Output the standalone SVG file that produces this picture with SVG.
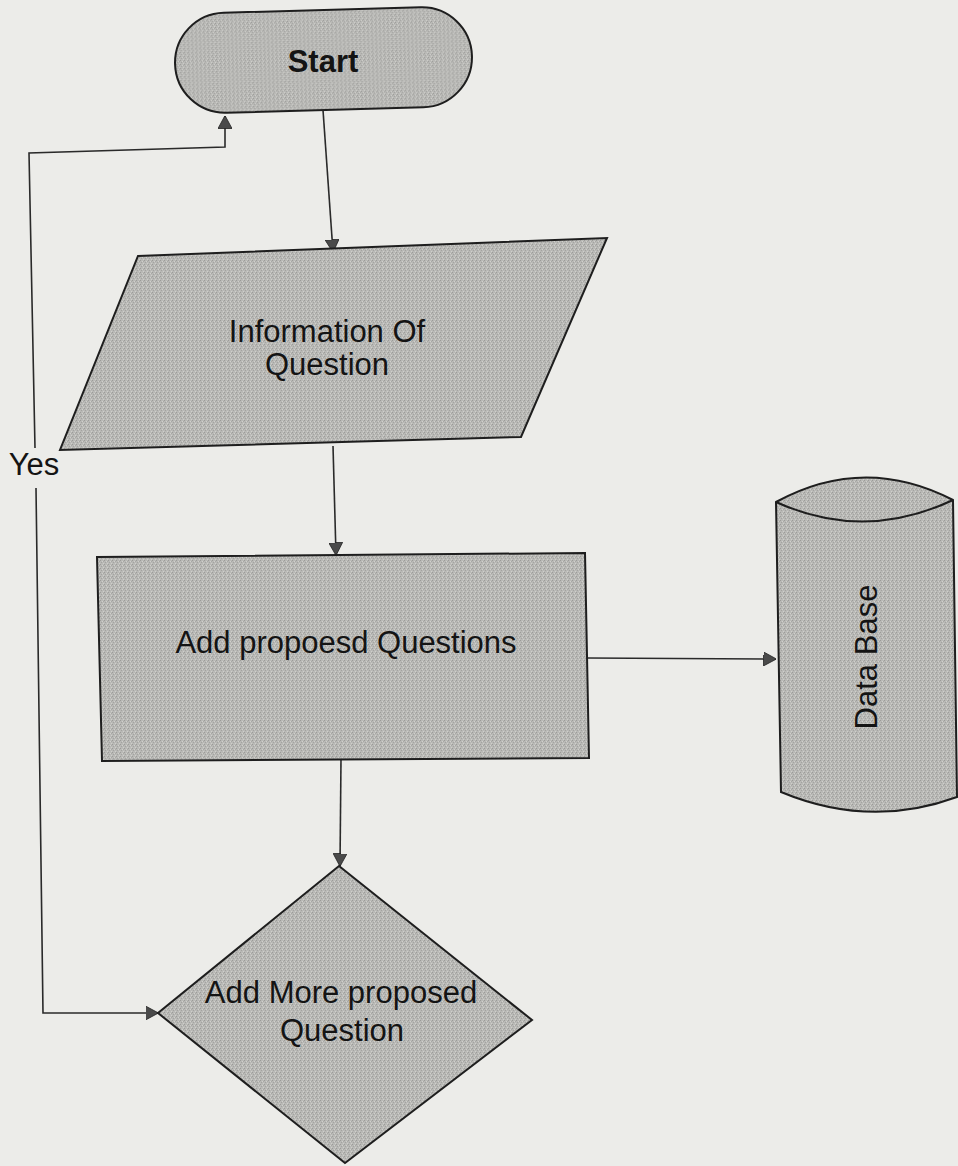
<svg xmlns="http://www.w3.org/2000/svg" width="958" height="1166" viewBox="0 0 958 1166">
  <defs>
    <pattern id="grain" width="4" height="4" patternUnits="userSpaceOnUse">
      <rect width="4" height="4" fill="#b9b9b6"/>
      <rect x="0" y="0" width="1" height="1" fill="#9c9c99"/>
      <rect x="2" y="1" width="1" height="1" fill="#d0d0cc"/>
      <rect x="1" y="2" width="1" height="1" fill="#a3a3a0"/>
      <rect x="3" y="3" width="1" height="1" fill="#cfcfcb"/>
      <rect x="3" y="1" width="1" height="1" fill="#a8a8a5"/>
    </pattern>
    <marker id="arrow" viewBox="0 0 13 14" refX="12.5" refY="7" markerWidth="13" markerHeight="14" markerUnits="userSpaceOnUse" orient="auto-start-reverse">
      <path d="M0,0 L13,7 L0,14 Z" fill="#4a4a4a" stroke="#222" stroke-width="0.8"/>
    </marker>
  </defs>
  <style>
    .shape { fill: url(#grain); stroke: #1e1e1e; stroke-width: 2; }
    .edge { fill: none; stroke: #2a2a2a; stroke-width: 1.6; }
    .label { font-family: "Liberation Sans", Arial, sans-serif; fill: #141414; text-anchor: middle; font-size: 31px; }
  </style>

  <!-- paper -->
  <rect width="958" height="1166" fill="#ecece9"/>

  <!-- connectors -->
  <g id="connectors">
    <path class="edge" d="M323,110 L333,252" marker-end="url(#arrow)"/>
    <path class="edge" d="M333,446 L336,555" marker-end="url(#arrow)"/>
    <path class="edge" d="M341,759 L340,866" marker-end="url(#arrow)"/>
    <path class="edge" d="M588,658 L776,659" marker-end="url(#arrow)"/>
    <!-- Yes loop -->
    <path class="edge" d="M158,1013 L43,1013 L36,488" marker-start="url(#arrow)"/>
    <path class="edge" d="M35,448 L29,153 L225,147 L225,116" marker-end="url(#arrow)"/>
    <text class="label" x="34" y="475" font-size="30">Yes</text>
  </g>

  <!-- Start -->
  <g id="node-start">
    <rect class="shape" x="175" y="10" width="297" height="100" rx="50" transform="rotate(-1.6 323 60)"/>
    <text class="label" x="323" y="72" font-weight="bold">Start</text>
  </g>

  <!-- Information Of Question -->
  <g id="node-info">
    <path class="shape" d="M138,256 L607,238 L521,437 L60,450 Z"/>
    <text class="label" x="327" y="342" font-size="30">Information Of</text>
    <text class="label" x="327" y="375" font-size="30">Question</text>
  </g>

  <!-- Add propoesd Questions -->
  <g id="node-add">
    <path class="shape" d="M97,557 L585,553 L589,758 L102,761 Z"/>
    <text class="label" x="346" y="653">Add propoesd Questions</text>
  </g>

  <!-- Data Base -->
  <g id="node-db">
    <path class="shape" d="M776,502 Q864,454 953,500 L957,797 Q870,829 781,792 Z"/>
    <path class="shape" style="fill:none" d="M776,502 Q864,542 953,500"/>
    <text class="label" x="0" y="0" font-size="32" transform="translate(877,657) rotate(-90)">Data Base</text>
  </g>

  <!-- Add More proposed Question -->
  <g id="node-decision">
    <path class="shape" d="M339,866 L532,1020 L345,1163 L158,1013 Z"/>
    <text class="label" x="341" y="1003">Add More proposed</text>
    <text class="label" x="342" y="1041">Question</text>
  </g>
</svg>
